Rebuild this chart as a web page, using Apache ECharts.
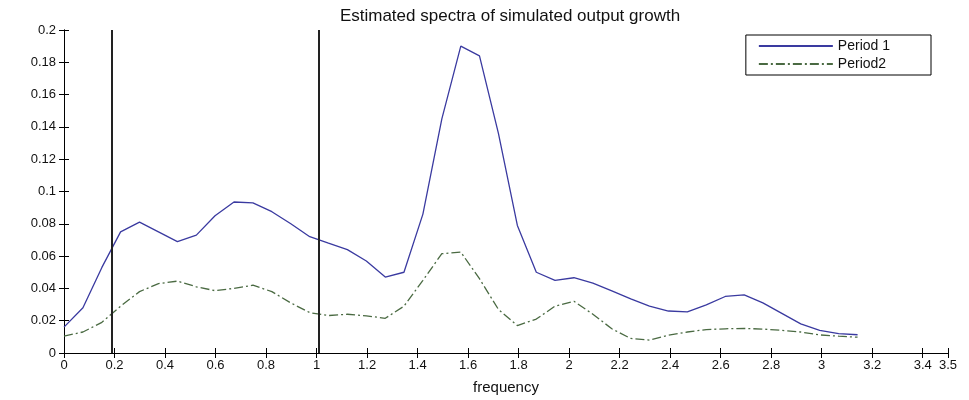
<!DOCTYPE html>
<html>
<head>
<meta charset="utf-8">
<title>Estimated spectra of simulated output growth</title>
<script src="https://cdn.jsdelivr.net/npm/echarts@6/dist/echarts.min.js"></script>
<style>
  html, body { margin: 0; padding: 0; background: #fff; }
  #chart { width: 969px; height: 400px; }
</style>
</head>
<body>
<div id="chart"></div>
<script>
// frequencies (0 .. pi)
var freq = [0, 0.075, 0.150, 0.224, 0.299, 0.374, 0.449, 0.524, 0.598, 0.673,
  0.748, 0.823, 0.898, 0.973, 1.047, 1.122, 1.197, 1.272, 1.346, 1.421,
  1.496, 1.571, 1.645, 1.720, 1.795, 1.870, 1.944, 2.019, 2.094, 2.169,
  2.244, 2.318, 2.393, 2.468, 2.543, 2.618, 2.693, 2.767, 2.842, 2.917,
  2.992, 3.067, 3.142];

var period1 = [0.016, 0.028, 0.053, 0.075, 0.081, 0.075, 0.069, 0.073, 0.085, 0.0935,
  0.093, 0.0875, 0.080, 0.072, 0.068, 0.064, 0.057, 0.047, 0.050, 0.086,
  0.145, 0.190, 0.184, 0.136, 0.079, 0.050, 0.045, 0.0466, 0.0433, 0.0385,
  0.0335, 0.029, 0.026, 0.0255, 0.0298, 0.035, 0.036, 0.031, 0.0245, 0.018,
  0.014, 0.012, 0.0113];

var period2 = [0.0105, 0.013, 0.019, 0.029, 0.038, 0.043, 0.0445, 0.041, 0.0386, 0.040,
  0.042, 0.038, 0.031, 0.025, 0.0232, 0.024, 0.023, 0.0215, 0.029, 0.045,
  0.0615, 0.0625, 0.046, 0.027, 0.017, 0.021, 0.029, 0.032, 0.024, 0.015,
  0.009, 0.008, 0.011, 0.013, 0.0145, 0.015, 0.0152, 0.0148, 0.014, 0.013,
  0.0112, 0.0104, 0.0098];

// business-cycle band edges
var bandEdges = [0.193, 1.008];

// x tick labels
var xTicks = [0, 0.2, 0.4, 0.6, 0.8, 1, 1.2, 1.4, 1.6, 1.8, 2, 2.2, 2.4, 2.6, 2.8, 3, 3.2, 3.4, 3.5];

var chart = echarts.init(document.getElementById('chart'));

function pairs(xs, ys) {
  return xs.map(function (x, i) { return [x, ys[i]]; });
}

var font = 'Liberation Sans, Arial, sans-serif';
var axisLine = { show: true, lineStyle: { color: '#000', width: 1 } };

chart.setOption({
  animation: false,
  backgroundColor: '#fff',
  title: {
    text: 'Estimated spectra of simulated output growth',
    left: 505,
    top: 3,
    textAlign: 'center',
    textStyle: { fontFamily: font, fontSize: 17, fontWeight: 'normal', color: '#111' }
  },
  legend: {
    right: 38,
    top: 35,
    orient: 'vertical',
    align: 'left',
    itemWidth: 74,
    itemHeight: 12,
    itemGap: 4,
    padding: [4, 41, 4, 12],
    borderColor: '#000',
    borderWidth: 1,
    backgroundColor: '#fff',
    itemStyle: { opacity: 0 },
    textStyle: { fontFamily: font, fontSize: 14, color: '#111' },
    data: ['Period 1', 'Period2']
  },
  grid: { left: 64, right: 21, top: 30, bottom: 45 },
  xAxis: [{
    type: 'value',
    position: 'bottom',
    min: 0,
    max: 3.5,
    name: 'frequency',
    nameLocation: 'middle',
    nameGap: 27,
    nameTextStyle: { fontFamily: font, fontSize: 15, color: '#111' },
    axisLine: axisLine,
    splitLine: { show: false },
    axisTick: { inside: true, length: 5, lineStyle: { color: '#000' }, customValues: xTicks },
    axisLabel: { fontFamily: font, fontSize: 13, color: '#111', margin: 6, customValues: xTicks }
  }, {
    type: 'value',
    position: 'top',
    min: 0,
    max: 3.5,
    axisLine: axisLine,
    splitLine: { show: false },
    axisTick: { inside: true, length: 5, lineStyle: { color: '#000' }, customValues: xTicks },
    axisLabel: { show: false }
  }],
  yAxis: [{
    type: 'value',
    position: 'left',
    min: 0,
    max: 0.2,
    interval: 0.02,
    axisLine: axisLine,
    splitLine: { show: false },
    axisTick: { show: true, inside: true, length: 5, lineStyle: { color: '#000' } },
    axisLabel: { fontFamily: font, fontSize: 13, color: '#111', margin: 8 }
  }, {
    type: 'value',
    position: 'right',
    min: 0,
    max: 0.2,
    interval: 0.02,
    axisLine: axisLine,
    splitLine: { show: false },
    axisTick: { show: true, inside: true, length: 5, lineStyle: { color: '#000' } },
    axisLabel: { show: false }
  }],
  series: [{
    name: 'Period 1',
    type: 'line',
    data: pairs(freq, period1),
    showSymbol: false,
    symbol: 'none',
    color: '#3a3aa0',
    lineStyle: { color: '#3a3aa0', width: 1.3 },
    markLine: {
      silent: true,
      symbol: 'none',
      label: { show: false },
      lineStyle: { color: '#222', width: 2, type: 'solid' },
      data: bandEdges.map(function (b) { return { xAxis: b }; })
    },
    z: 3
  }, {
    name: 'Period2',
    type: 'line',
    data: pairs(freq, period2),
    showSymbol: false,
    symbol: 'none',
    color: '#4a6a42',
    lineStyle: { color: '#4a6a42', width: 1.3, type: [9, 3, 2, 3] },
    z: 2
  }]
});
</script>
</body>
</html>
